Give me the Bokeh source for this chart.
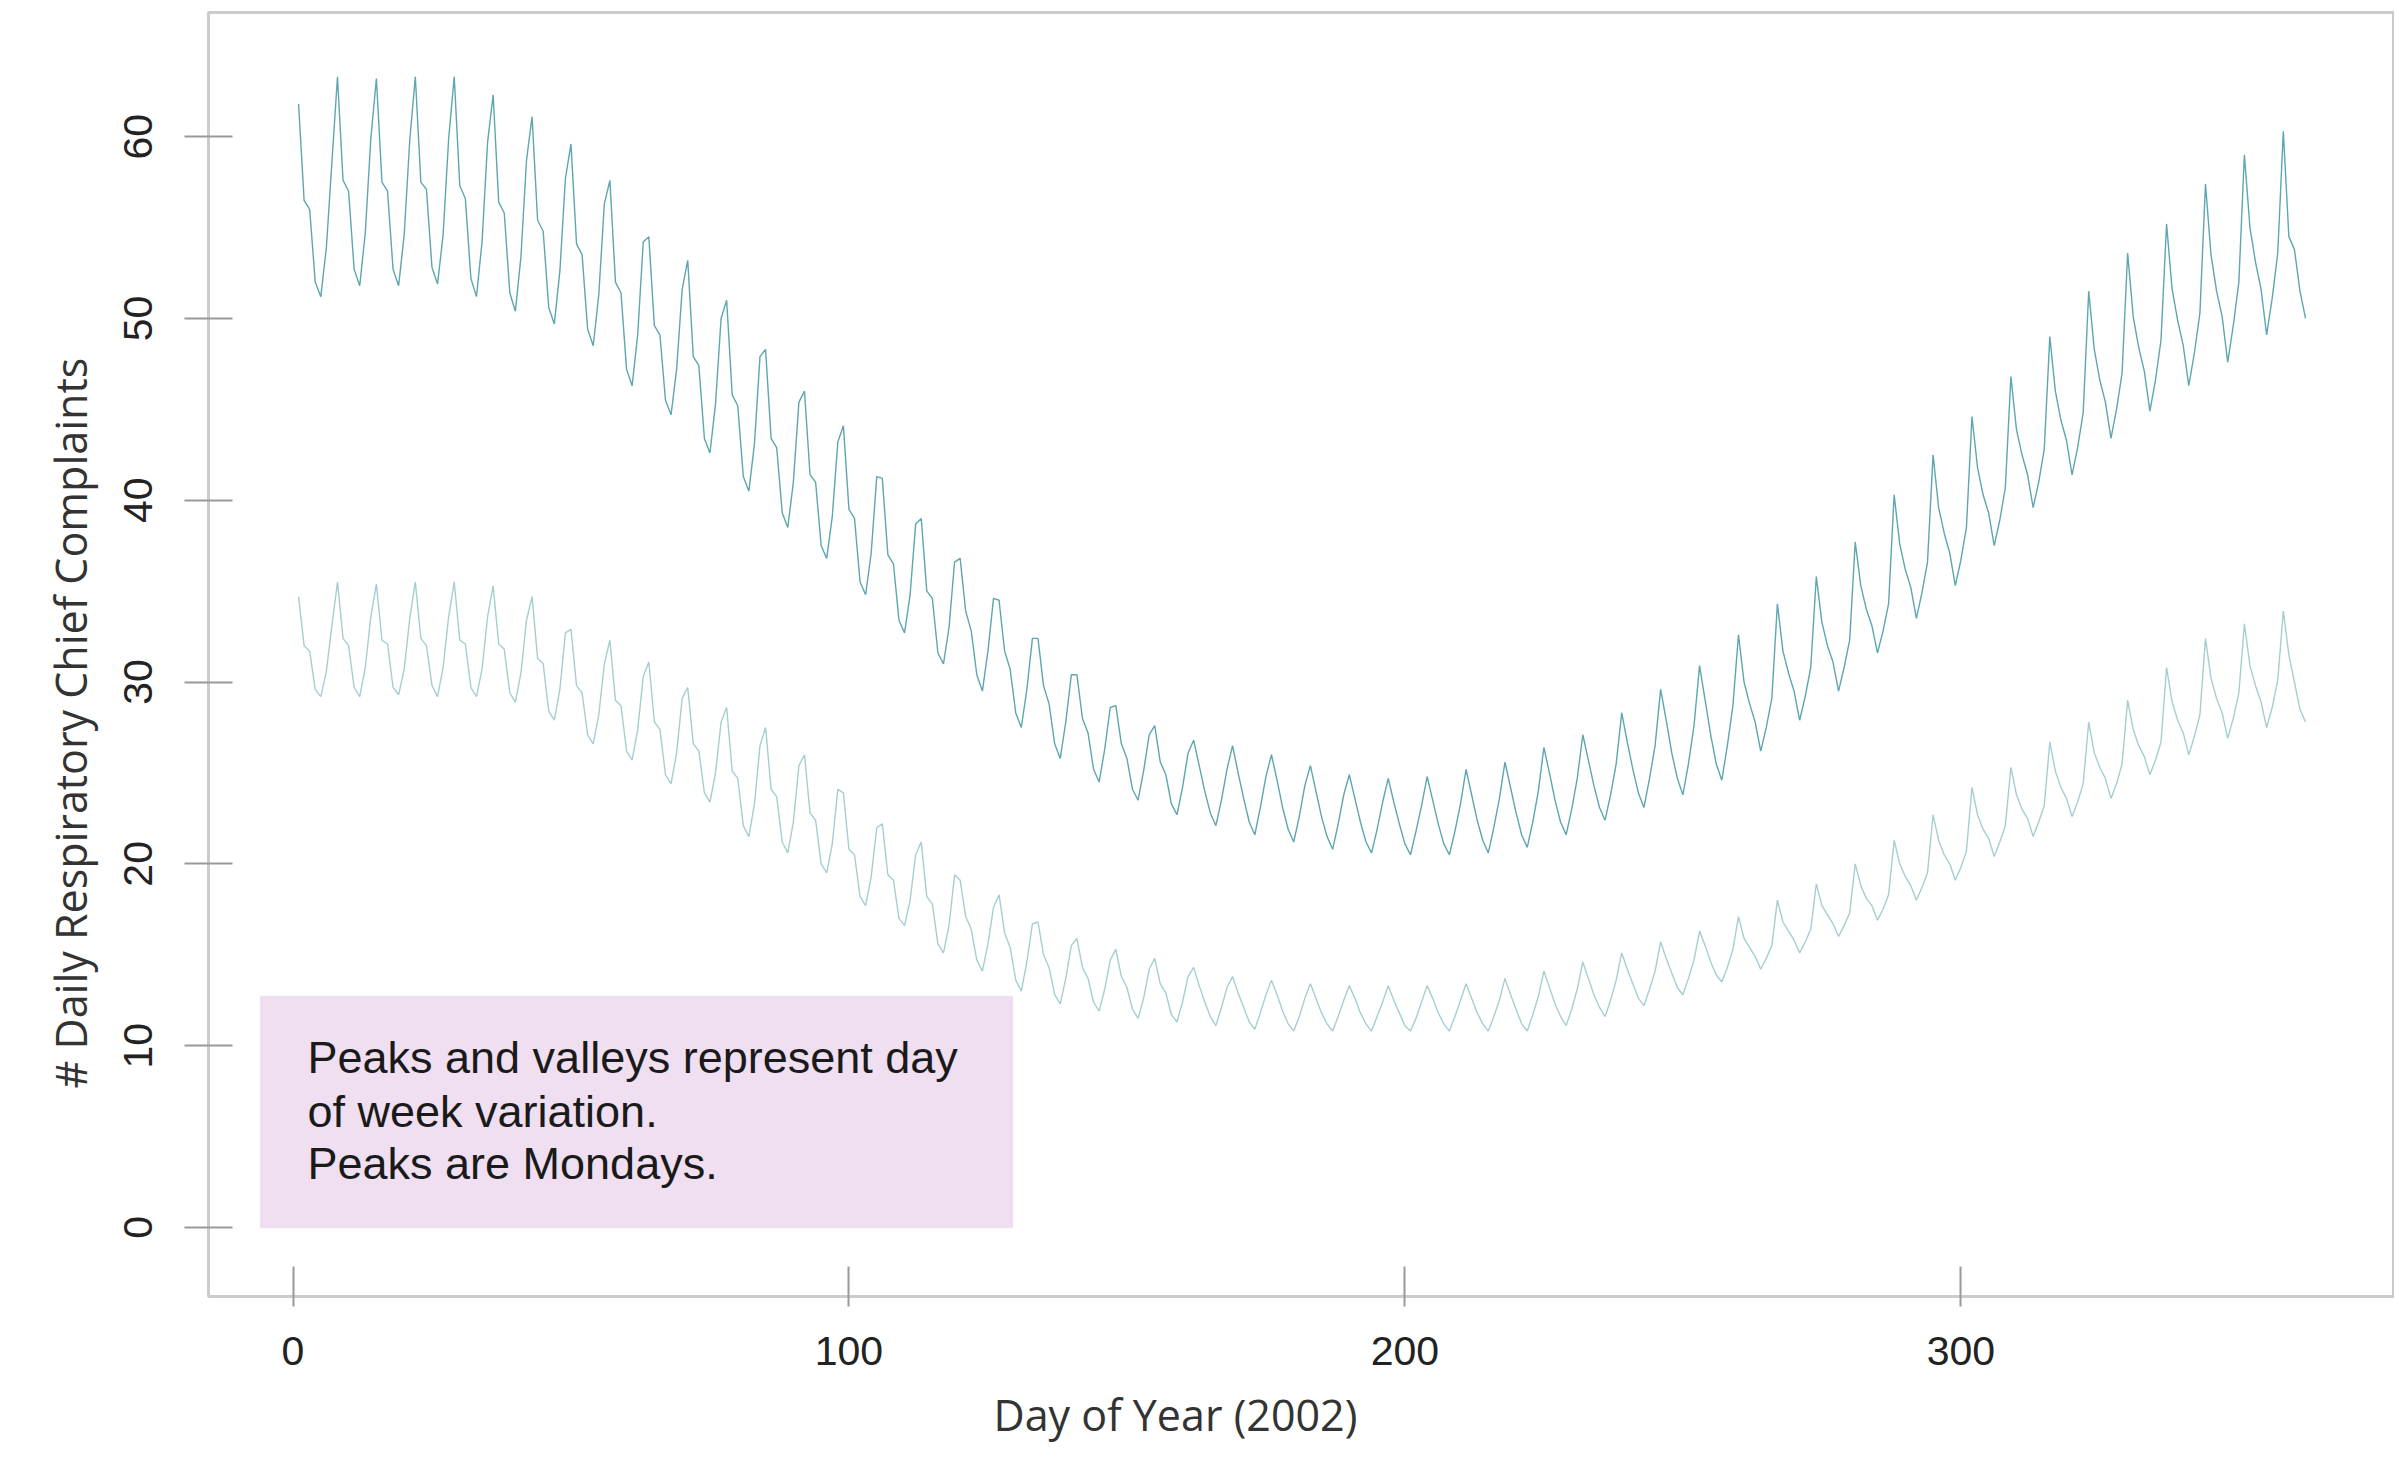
from bokeh.plotting import figure
from bokeh.models import Range1d, FixedTicker, BoxAnnotation, Label, Title
from bokeh.embed import file_html
from bokeh.resources import INLINE

# Daily respiratory chief complaints, 2002, one week per row (Mon..Sun)
upper_counts = [
    61.8, 56.5, 56.0, 52.0, 51.2, 53.9, 58.6,
    63.3, 57.6, 57.0, 52.7, 51.8, 54.7, 59.9,
    63.2, 57.5, 57.0, 52.7, 51.8, 54.6, 59.8,
    63.3, 57.5, 57.1, 52.8, 51.9, 54.6, 59.9,
    63.3, 57.3, 56.6, 52.2, 51.2, 54.2, 59.7,
    62.3, 56.4, 55.8, 51.4, 50.4, 53.4, 58.7,
    61.1, 55.4, 54.8, 50.6, 49.7, 52.6, 57.7,
    59.6, 54.1, 53.5, 49.4, 48.5, 51.3, 56.3,
    57.6, 52.0, 51.4, 47.2, 46.3, 49.1, 54.2,
    54.5, 49.6, 49.1, 45.5, 44.7, 47.2, 51.6,
    53.2, 47.9, 47.4, 43.4, 42.6, 45.3, 50.0,
    51.0, 45.8, 45.2, 41.3, 40.5, 43.1, 47.9,
    48.3, 43.4, 42.9, 39.3, 38.5, 41.0, 45.4,
    46.0, 41.4, 41.0, 37.5, 36.8, 39.1, 43.2,
    44.1, 39.5, 39.0, 35.5, 34.8, 37.1, 41.3,
    41.2, 37.0, 36.5, 33.4, 32.7, 34.8, 38.7,
    39.0, 35.0, 34.6, 31.6, 31.0, 33.0, 36.6,
    36.8, 33.9, 32.8, 30.4, 29.5, 31.7, 34.6,
    34.5, 31.7, 30.7, 28.3, 27.5, 29.6, 32.4,
    32.4, 29.8, 28.8, 26.6, 25.8, 27.8, 30.4,
    30.4, 28.0, 27.2, 25.2, 24.5, 26.3, 28.6,
    28.7, 26.6, 25.8, 24.1, 23.5, 25.1, 27.1,
    27.6, 25.6, 24.9, 23.3, 22.7, 24.2, 26.1,
    26.8, 25.4, 24.0, 22.8, 22.1, 23.5, 25.2,
    26.5, 25.0, 23.6, 22.3, 21.6, 23.1, 24.8,
    26.0, 24.6, 23.1, 21.9, 21.2, 22.6, 24.3,
    25.4, 24.0, 22.6, 21.5, 20.8, 22.2, 23.8,
    24.9, 23.6, 22.3, 21.2, 20.6, 21.9, 23.4,
    24.7, 23.4, 22.2, 21.1, 20.5, 21.8, 23.2,
    24.8, 23.5, 22.2, 21.1, 20.5, 21.8, 23.3,
    25.2, 23.8, 22.4, 21.3, 20.6, 22.0, 23.6,
    25.6, 24.2, 22.8, 21.6, 20.9, 22.3, 24.0,
    26.4, 25.0, 23.5, 22.3, 21.6, 23.0, 24.7,
    27.1, 25.7, 24.3, 23.1, 22.4, 23.8, 25.5,
    28.3, 26.7, 25.2, 23.9, 23.1, 24.7, 26.5,
    29.6, 27.9, 26.1, 24.7, 23.8, 25.5, 27.6,
    30.9, 29.0, 27.1, 25.5, 24.6, 26.5, 28.7,
    32.6, 30.0, 28.8, 27.8, 26.2, 27.5, 29.1,
    34.3, 31.7, 30.5, 29.5, 27.9, 29.2, 30.8,
    35.8, 33.3, 32.0, 31.1, 29.5, 30.8, 32.3,
    37.7, 35.3, 34.0, 33.1, 31.6, 32.8, 34.3,
    40.3, 37.6, 36.2, 35.2, 33.5, 34.9, 36.6,
    42.5, 39.6, 38.2, 37.1, 35.3, 36.7, 38.5,
    44.6, 41.8, 40.3, 39.3, 37.5, 38.9, 40.7,
    46.8, 43.9, 42.5, 41.4, 39.6, 41.0, 42.8,
    49.0, 46.0, 44.4, 43.3, 41.4, 42.9, 44.8,
    51.5, 48.3, 46.6, 45.4, 43.4, 45.0, 47.0,
    53.6, 50.1, 48.4, 47.1, 44.9, 46.6, 48.8,
    55.2, 51.6, 49.9, 48.5, 46.3, 48.1, 50.3,
    57.4, 53.5, 51.5, 50.1, 47.6, 49.6, 52.0,
    59.0, 55.0, 53.1, 51.6, 49.1, 51.1, 53.6,
    60.3, 54.5, 53.8, 51.5, 50.0,
]

lower_counts = [
    34.7, 32.0, 31.7, 29.6, 29.2, 30.6, 33.1,
    35.5, 32.4, 32.0, 29.7, 29.2, 30.8, 33.6,
    35.4, 32.3, 32.1, 29.7, 29.3, 30.7, 33.5,
    35.5, 32.4, 32.0, 29.8, 29.2, 30.8, 33.6,
    35.5, 32.3, 32.1, 29.7, 29.2, 30.7, 33.6,
    35.3, 32.1, 31.8, 29.4, 28.9, 30.5, 33.4,
    34.7, 31.3, 31.0, 28.4, 27.9, 29.6, 32.7,
    32.9, 29.8, 29.4, 27.1, 26.6, 28.2, 31.0,
    32.3, 29.0, 28.7, 26.2, 25.7, 27.4, 30.3,
    31.1, 27.8, 27.4, 24.9, 24.4, 26.1, 29.1,
    29.7, 26.6, 26.2, 23.9, 23.4, 25.0, 27.8,
    28.6, 25.1, 24.7, 22.1, 21.5, 23.3, 26.5,
    27.5, 24.1, 23.7, 21.2, 20.6, 22.3, 25.4,
    26.0, 22.8, 22.4, 20.0, 19.5, 21.1, 24.1,
    23.9, 20.8, 20.5, 18.2, 17.7, 19.3, 22.0,
    22.2, 19.4, 19.1, 17.0, 16.6, 18.0, 20.5,
    21.2, 18.2, 17.8, 15.6, 15.1, 16.6, 19.4,
    19.1, 17.1, 16.4, 14.7, 14.1, 15.6, 17.6,
    18.3, 16.2, 15.4, 13.6, 13.0, 14.6, 16.7,
    16.8, 15.0, 14.3, 12.8, 12.3, 13.7, 15.5,
    15.9, 14.3, 13.7, 12.4, 11.9, 13.1, 14.7,
    15.3, 13.8, 13.2, 12.0, 11.5, 12.6, 14.2,
    14.8, 13.4, 12.9, 11.7, 11.3, 12.4, 13.8,
    14.3, 13.3, 12.4, 11.6, 11.1, 12.1, 13.2,
    13.8, 12.9, 12.1, 11.3, 10.9, 11.8, 12.8,
    13.6, 12.8, 11.9, 11.2, 10.8, 11.6, 12.6,
    13.4, 12.6, 11.8, 11.2, 10.8, 11.6, 12.5,
    13.3, 12.6, 11.8, 11.2, 10.8, 11.6, 12.4,
    13.3, 12.5, 11.8, 11.1, 10.8, 11.5, 12.4,
    13.3, 12.6, 11.8, 11.2, 10.8, 11.6, 12.5,
    13.4, 12.6, 11.8, 11.2, 10.8, 11.6, 12.5,
    13.7, 12.8, 12.0, 11.2, 10.8, 11.7, 12.7,
    14.1, 13.2, 12.3, 11.6, 11.1, 12.0, 13.1,
    14.6, 13.7, 12.8, 12.1, 11.6, 12.5, 13.6,
    15.1, 14.2, 13.4, 12.6, 12.2, 13.1, 14.1,
    15.7, 14.8, 14.0, 13.2, 12.8, 13.7, 14.7,
    16.3, 15.5, 14.6, 13.9, 13.5, 14.3, 15.3,
    17.1, 15.9, 15.4, 14.9, 14.2, 14.8, 15.5,
    18.0, 16.8, 16.3, 15.8, 15.1, 15.7, 16.4,
    18.9, 17.7, 17.2, 16.7, 16.0, 16.6, 17.3,
    20.0, 18.8, 18.1, 17.7, 16.9, 17.5, 18.3,
    21.3, 20.0, 19.3, 18.8, 18.0, 18.7, 19.5,
    22.7, 21.3, 20.5, 20.0, 19.1, 19.8, 20.7,
    24.2, 22.7, 21.9, 21.4, 20.4, 21.2, 22.1,
    25.3, 23.8, 23.0, 22.5, 21.5, 22.3, 23.2,
    26.7, 25.1, 24.2, 23.6, 22.6, 23.4, 24.4,
    27.8, 26.1, 25.3, 24.7, 23.6, 24.4, 25.5,
    29.0, 27.4, 26.5, 25.9, 24.9, 25.7, 26.7,
    30.8, 28.9, 27.9, 27.2, 26.0, 27.0, 28.2,
    32.4, 30.2, 29.1, 28.3, 26.9, 28.0, 29.4,
    33.2, 30.9, 29.8, 28.9, 27.5, 28.6, 30.1,
    33.9, 31.5, 30.0, 28.5, 27.8,
]

days = list(range(1, len(upper_counts) + 1))

x_ticks = [0, 100, 200, 300]
y_ticks = [0, 10, 20, 30, 40, 50, 60]

note_lines = ["Peaks and valleys represent day", "of week variation.", "Peaks are Mondays."]
note_y = [9.35, 6.4, 3.5]
x_title = "Day of Year (2002)"
y_title = "# Daily Respiratory Chief Complaints"

p = figure(width=2394, height=1461, output_backend="svg", toolbar_location=None,
           x_range=Range1d(-15.2, 378.0), y_range=Range1d(-3.8, 66.83),
           min_border_left=208, min_border_right=0, min_border_top=12, min_border_bottom=165)
p.background_fill_color = "white"
p.border_fill_color = "white"
p.outline_line_color = "#cccccc"
p.outline_line_width = 3
p.xgrid.visible = False
p.ygrid.visible = False

# annotation box
p.add_layout(BoxAnnotation(left=-5.8, right=129.4, bottom=0, top=12.7,
                           fill_color="#efdff0", fill_alpha=1.0,
                           line_color="#d9c6da", line_width=2, level="underlay"))

p.line(days, upper_counts, line_color="#5ea6b0", line_width=1.4)
p.line(days, lower_counts, line_color="#a5cfcf", line_width=1.4)

for txt, yv in zip(note_lines, note_y):
    p.add_layout(Label(x=2.6, y=yv, text=txt, text_font="Liberation Sans",
                       text_font_size="45px", text_color="#1a1a1a",
                       text_baseline="middle", text_align="left"))

xa = p.xaxis[0]
xa.ticker = FixedTicker(ticks=x_ticks)
xa.axis_line_color = None
xa.major_tick_line_color = "#999999"
xa.major_tick_line_width = 2
xa.major_tick_in = 30
xa.major_tick_out = 10
xa.minor_tick_line_color = None
xa.major_label_text_font = "Liberation Sans"
xa.major_label_text_font_size = "41px"
xa.major_label_text_color = "#222222"
xa.major_label_standoff = 30

ya = p.yaxis[0]
ya.ticker = FixedTicker(ticks=y_ticks)
ya.axis_line_color = None
ya.major_tick_line_color = "#999999"
ya.major_tick_line_width = 2
ya.major_tick_in = 24
ya.major_tick_out = 24
ya.minor_tick_line_color = None
ya.major_label_orientation = "vertical"
ya.major_label_text_font = "Liberation Sans"
ya.major_label_text_font_size = "41px"
ya.major_label_text_color = "#222222"
ya.major_label_standoff = 32

# axis titles as side titles so that they can be shifted like in the reference
p.add_layout(Title(text=x_title, align="left", offset=785, standoff=31,
                   text_font="Open Sans", text_font_size="43px", text_font_style="normal",
                   text_color="#333333"), "below")
p.add_layout(Title(text=y_title, align="left", offset=208, standoff=40, vertical_align="top",
                   text_font="Open Sans", text_font_size="43px", text_font_style="normal",
                   text_color="#333333"), "left")

open("out.html", "w").write(file_html(p, INLINE))
